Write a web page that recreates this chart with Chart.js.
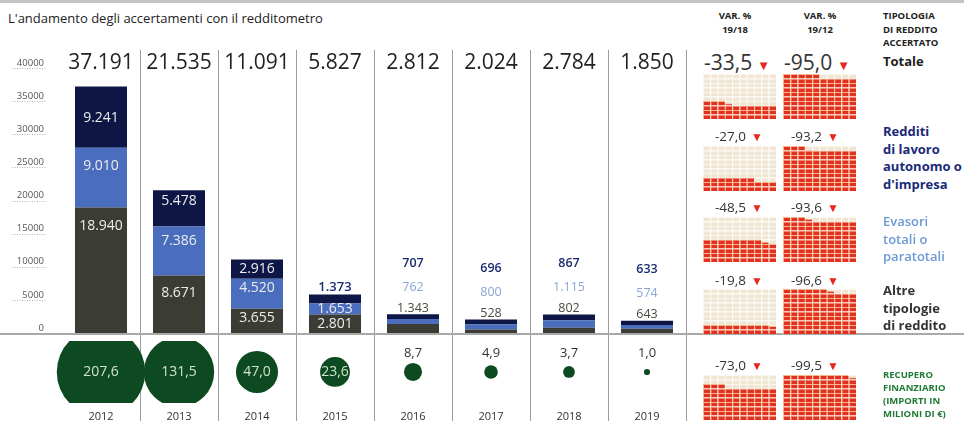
<!DOCTYPE html>
<html><head><meta charset="utf-8">
<script src="https://cdn.jsdelivr.net/npm/chart.js@4.4.1/dist/chart.umd.min.js"></script>
<style>
body{margin:0;background:#fff;width:964px;height:421px;overflow:hidden;position:relative;font-family:"Open Sans",sans-serif;color:#222}
canvas{position:absolute}
.t{position:absolute;white-space:nowrap}
.rule{position:absolute;left:0;width:964px}
.hdr{font-weight:700;font-size:9.5px;line-height:14px;text-align:center;color:#222}
.lab{font-weight:700;font-size:13px;line-height:17.5px}
.caps{font-weight:700;font-size:9.5px;line-height:13px}
.var{color:#333;font-size:13.5px;line-height:18px}
.var .tri{color:#e8261c;font-size:12px;margin-left:5px}
</style></head><body>
<div class="rule" style="top:0;height:3px;background:#c4c4c4"></div>
<div class="t" style="left:8px;top:9px;font-size:13px;line-height:18px;color:#222">L'andamento degli accertamenti con il redditometro</div>
<canvas id="bars" width="690" height="340" style="left:0;top:0"></canvas>
<canvas id="bub" width="690" height="87" style="left:0;top:334px"></canvas>
<div class="rule" style="top:333px;height:2px;background:#a9a9a9"></div>
<div id="right"></div>
<script>
// ---------- DATA ----------
const years = ['2012','2013','2014','2015','2016','2017','2018','2019'];
const altre   = [18940, 8671, 3655, 2801, 1343, 528, 802, 643];
const evasori = [9010, 7386, 4520, 1653, 762, 800, 1115, 574];
const redditi = [9241, 5478, 2916, 1373, 707, 696, 867, 633];
const totali  = [37191, 21535, 11091, 5827, 2812, 2024, 2784, 1850];
const recupero = [207.6, 131.5, 47.0, 23.6, 8.7, 4.9, 3.7, 1.0];
const yTicks = [0, 5000, 10000, 15000, 20000, 25000, 30000, 35000, 40000];
const rowLabels = [['Totale'], ['Redditi','di lavoro','autonomo o',"d'impresa"], ['Evasori','totali o','paratotali'], ['Altre','tipologie','di reddito'], ['RECUPERO','FINANZIARIO','(IMPORTI IN','MILIONI DI €)']];
const var1918 = [-33.5, -27.0, -48.5, -19.8, -73.0];
const var1912 = [-95.0, -93.2, -93.6, -96.6, -99.5];
const colHeaders = [['VAR. %','19/18'], ['VAR. %','19/12']];
const typeHeader = ['TIPOLOGIA','DI REDDITO','ACCERTATO'];

// ---------- helpers ----------
const fmtInt = n => String(n).replace(/\B(?=(\d{3})+(?!\d))/g, '.');
const fmtDec = v => v.toFixed(1).replace('.', ',');
Chart.defaults.font.family = '"Open Sans", sans-serif';

// ---------- main stacked bars ----------
const C_ALTRE = '#3b3d35', C_EVAS = '#4a6dbd', C_REDD = '#0d1645';
const barLabels = {
  id: 'barLabels',
  afterDatasetsDraw(chart) {
    const ctx = chart.ctx, y = chart.scales.y;
    ctx.save();
    ctx.textAlign = 'center'; ctx.textBaseline = 'middle';
    const series = [altre, evasori, redditi];
    const totY = y.getPixelForValue(40000) - 5;
    years.forEach((yr, i) => {
      const bars = [0,1,2].map(d => chart.getDatasetMeta(d).data[i]);
      const x = bars[0].x;
      ctx.font = '400 21px "Open Sans"'; ctx.fillStyle = '#222';
      ctx.fillText(fmtInt(totali[i]), x, totY);
      const topY = bars[2].y;
      const totalH = y.getPixelForValue(0) - topY;
      if (totalH < 25) {
        const offs = [6, 27, 51];
        const cols = ['#4a4a42', '#8ba6d6', '#1c2b72'];
        const fw = ['400', '400', '600'];
        [0,1,2].forEach(d => {
          ctx.font = fw[d] + ' 12.5px "Open Sans"'; ctx.fillStyle = cols[d];
          ctx.fillText(fmtInt(series[d][i]), x, topY - offs[d]);
        });
      } else {
        bars.forEach((b, d) => {
          const top = b.y, h = b.base - b.y;
          let ty, col = '#ececec', f = '400 14px "Open Sans"';
          if (h < 10) { ty = topY - 7; col = '#1c2b72'; f = '600 13px "Open Sans"'; }
          else if (h < 20) ty = top + h / 2;
          else if (d === 2 && h >= 50) ty = top + h * 0.52;
          else ty = top + Math.min(Math.max(9, h * 0.3), 18);
          ctx.font = f; ctx.fillStyle = col;
          ctx.fillText(fmtInt(series[d][i]), x, ty);
        });
      }
    });
    ctx.restore();
  },
  afterDraw(chart) {
    const ctx = chart.ctx, y = chart.scales.y;
    ctx.save();
    ctx.strokeStyle = '#b5b5b5'; ctx.lineWidth = 1; ctx.setLineDash([1, 1.5]);
    yTicks.forEach(v => {
      if (v === 0) return;
      const py = Math.round(y.getPixelForValue(v)) + 0.5;
      ctx.beginPath(); ctx.moveTo(12, py); ctx.lineTo(46, py); ctx.stroke();
    });
    ctx.restore();
  }
};
const sepColor = ctx => (ctx.index === 0 || ctx.index === years.length) ? 'rgba(0,0,0,0)' : '#9c9c9c';

new Chart(document.getElementById('bars'), {
  type: 'bar',
  data: {
    labels: years,
    datasets: [
      { label: 'Altre tipologie di reddito', data: altre, backgroundColor: C_ALTRE },
      { label: 'Evasori totali o paratotali', data: evasori, backgroundColor: C_EVAS },
      { label: "Redditi di lavoro autonomo o d'impresa", data: redditi, backgroundColor: C_REDD }
    ]
  },
  options: {
    responsive: false, animation: false,
    layout: { padding: { top: 50, right: 4, left: 0, bottom: 0 }, autoPadding: false },
    datasets: { bar: { categoryPercentage: 1, barPercentage: 0.667, borderWidth: 0 } },
    plugins: { legend: { display: false }, tooltip: { enabled: false } },
    scales: {
      x: { stacked: true, offset: true,
           grid: { offset: true, color: sepColor, drawTicks: false, lineWidth: 1 },
           border: { display: false }, ticks: { display: false },
           afterFit: s => { s.height = 7; } },
      y: { stacked: true, min: 0, max: 42717,
           afterBuildTicks: s => { s.ticks = yTicks.map(v => ({ value: v })); },
           ticks: { callback: v => String(v), font: { size: 9.5 }, color: '#555', padding: 0, labelOffset: -5 },
           grid: { display: false, drawTicks: true, tickLength: 18, tickColor: 'rgba(0,0,0,0)' }, border: { display: false },
           afterFit: s => { s.width = 62; } }
    }
  },
  plugins: [barLabels]
});

// ---------- bubbles (recupero finanziario) ----------
const K = 3.07;
const bubLabels = {
  id: 'bubLabels',
  afterDatasetsDraw(chart) {
    const ctx = chart.ctx;
    ctx.save(); ctx.textAlign = 'center'; ctx.textBaseline = 'middle';
    chart.getDatasetMeta(0).data.forEach((pt, i) => {
      const r = pt.options.radius;
      if (r > 12) { ctx.font = '400 14px "Open Sans"'; ctx.fillStyle = '#cfe3c6'; ctx.fillText(fmtDec(recupero[i]), pt.x, pt.y); }
      else { ctx.font = '400 13px "Open Sans"'; ctx.fillStyle = '#333'; ctx.fillText(fmtDec(recupero[i]), pt.x, pt.y - 19); }
    });
    ctx.restore();
  }
};
new Chart(document.getElementById('bub'), {
  type: 'bubble',
  data: {
    labels: years,
    datasets: [{
      label: 'Recupero finanziario',
      data: years.map((yr, i) => ({ x: yr, y: 0.45, r: K * Math.sqrt(recupero[i]) })),
      backgroundColor: '#0d4a22', borderWidth: 0,
      clip: { left: false, right: false, top: -7, bottom: 0 }
    }]
  },
  options: {
    responsive: false, animation: false,
    layout: { padding: { left: 62, right: 4, top: 0, bottom: 0 }, autoPadding: false },
    plugins: { legend: { display: false }, tooltip: { enabled: false } },
    scales: {
      x: { type: 'category', labels: years, offset: true,
           grid: { offset: true, color: sepColor, drawTicks: true, tickLength: 18 },
           border: { display: false },
           ticks: { font: { size: 11 }, color: '#333', padding: -11 },
           afterFit: s => { s.height = 18; } },
      y: { display: false, min: 0, max: 1 }
    }
  },
  plugins: [bubLabels]
});

// ---------- right panel: waffles + texts ----------
const right = document.getElementById('right');
function addText(html, cls, left, top, style) {
  const d = document.createElement('div');
  d.className = 't ' + cls; d.innerHTML = html;
  d.style.left = left + 'px'; d.style.top = top + 'px';
  if (style) d.style.cssText += style;
  right.appendChild(d);
  return d;
}
const hdrCenters = [735, 820];
colHeaders.forEach((h, k) => {
  addText(h.join('<br>'), 'hdr', hdrCenters[k] - 30, 9, 'width:60px');
});
addText(typeHeader.join('<br>'), 'caps', 883, 9, 'line-height:13.5px;color:#222');

const rowCenters = [62, 136, 207, 280, 365];
const waffleTops = [74, 146, 217, 289, 375];
const waffleLefts = [703, 783];
const rowColors = ['#222', '#1b2a78', '#6b98d6', '#333', '#1f7a36'];
const rowLabelTops = [53, 123, 213, 282, 368];
rowLabels.forEach((lines, r) => {
  const cls = r === 4 ? 'caps' : 'lab';
  addText(lines.join('<br>'), cls, 883, rowLabelTops[r], 'color:' + rowColors[r] + (r === 2 ? ';font-weight:600' : ''));
});

[var1918, var1912].forEach((arr, k) => {
  arr.forEach((v, r) => {
    const big = r === 0;
    const left = big ? [704, 784][k] : [715, 791][k];
    const fs = big ? 21 : 13.5;
    const d = addText(fmtDec(v) + '<span class="tri">▼</span>', 'var', left, rowCenters[r] - (big ? 15 : 9),
      'font-size:' + fs + 'px;line-height:' + (big ? 30 : 18) + 'px');
    if (big) d.querySelector('.tri').style.fontSize = '13px';
  });
});

function waffle(left, top, pct) {
  const cv = document.createElement('canvas');
  cv.width = 73; cv.height = 45;
  cv.style.left = left + 'px'; cv.style.top = top + 'px';
  right.appendChild(cv);
  const datasets = [];
  for (let r = 0; r < 10; r++) {
    const filled = [], empty = [];
    for (let c = 0; c < 10; c++) {
      const f = Math.max(0, Math.min(1, pct - (r * 10 + c)));
      filled.push(f); empty.push(1 - f);
    }
    datasets.push({ data: filled, backgroundColor: '#e2321f', borderColor: '#f5b48a' });
    datasets.push({ data: empty, backgroundColor: '#efe6d3', borderColor: '#faf6ee' });
  }
  new Chart(cv, {
    type: 'bar',
    data: { labels: ['1','2','3','4','5','6','7','8','9','10'], datasets },
    options: {
      responsive: false, animation: false,
      layout: { padding: 0 },
      datasets: { bar: { categoryPercentage: 1, barPercentage: 1, borderWidth: { top: 1, left: 1, right: 0, bottom: 0 }, borderSkipped: false, inflateAmount: 0 } },
      plugins: { legend: { display: false }, tooltip: { enabled: false } },
      scales: { x: { display: false, stacked: true }, y: { display: false, stacked: true, min: 0, max: 10 } }
    }
  });
}
[var1918, var1912].forEach((arr, k) => {
  arr.forEach((v, r) => waffle(waffleLefts[k], waffleTops[r], -v));
});
</script>
</body></html>
